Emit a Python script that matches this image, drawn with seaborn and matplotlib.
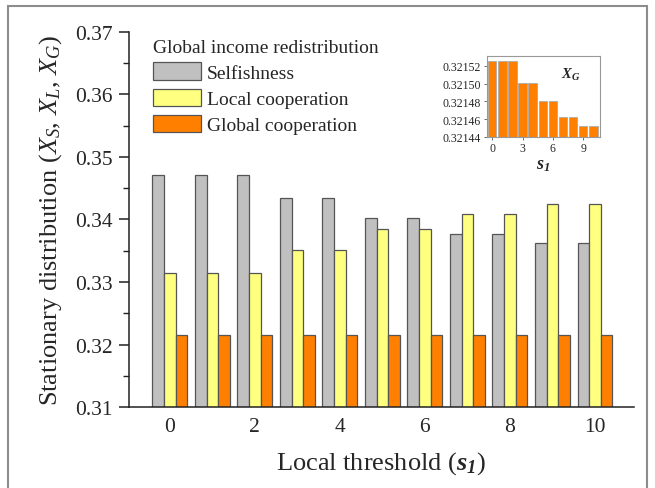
import numpy as np
import pandas as pd
import matplotlib
matplotlib.use("Agg")
import matplotlib.pyplot as plt
import seaborn as sns
from matplotlib.patches import Patch, Rectangle

# ---- data ----
s1_values = list(range(11))
selfishness = [0.3471, 0.3471, 0.3471, 0.3435, 0.3435, 0.3403, 0.3403, 0.3376, 0.3376, 0.3363, 0.3363]
local_coop = [0.3314, 0.3314, 0.3314, 0.3351, 0.3351, 0.3384, 0.3384, 0.3409, 0.3409, 0.3424, 0.3424]
global_coop = [0.321526, 0.321526, 0.321526, 0.321501, 0.321501, 0.321480, 0.321480, 0.321462, 0.321462, 0.321452, 0.321452]
series_names = ["Selfishness", "Local cooperation", "Global cooperation"]
legend_title = "Global income redistribution"
main_xticks = [0, 2, 4, 6, 8, 10]
inset_xticks = [0, 3, 6, 9]
inset_yticks = [0.32144, 0.32146, 0.32148, 0.32150, 0.32152]

colors = ["#C0C0C0", "#FFFF80", "#FF8000"]

sns.set_theme(style="white")
plt.rcParams["font.family"] = ["Liberation Serif", "DejaVu Serif"]
plt.rcParams["mathtext.fontset"] = "custom"
plt.rcParams["mathtext.rm"] = "Liberation Serif"
plt.rcParams["mathtext.it"] = "Liberation Serif:italic"
plt.rcParams["mathtext.bf"] = "Liberation Serif:bold:italic"

df = pd.DataFrame({
    "s1": s1_values * 3,
    "value": selfishness + local_coop + global_coop,
    "series": sum([[n] * len(s1_values) for n in series_names], []),
})

fig = plt.figure(figsize=(6.55, 4.89), dpi=100)
ax = fig.add_axes([0.197, 0.1656, 0.771, 0.767])

sns.barplot(data=df, x="s1", y="value", hue="series", hue_order=series_names,
            palette=colors, width=0.82, edgecolor="#555555", linewidth=0.9,
            saturation=1, ax=ax, legend=False)
ax.set_ylim(0.31, 0.37)
ax.set_xlim(-0.96, 10.92)
ax.set_yticks(np.arange(0.31, 0.3701, 0.01))
ax.set_yticks(np.arange(0.315, 0.37, 0.01), minor=True)
ax.set_yticklabels([f"{v:.2f}" for v in np.arange(0.31, 0.3701, 0.01)])
ax.set_xticks(main_xticks)
ax.set_xticklabels([str(v) for v in main_xticks])
ax.tick_params(axis="y", which="major", direction="out", length=7, width=1.1,
               labelsize=15.5, left=True, color="#222222", pad=5)
ax.tick_params(axis="y", which="minor", direction="out", length=4, width=1.0,
               left=True, color="#222222")
ax.tick_params(axis="x", length=0, labelsize=15.5, pad=7)
for sp in ["top", "right"]:
    ax.spines[sp].set_visible(False)
for sp in ["left", "bottom"]:
    ax.spines[sp].set_color("#222222")
    ax.spines[sp].set_linewidth(1.1)
ax.set_xlabel(r"Local threshold ($\mathbf{s}_{\mathbf{1}}$)", fontsize=19, labelpad=10)
ax.set_ylabel(r"Stationary distribution ($X_S$, $X_L$, $X_G$)", fontsize=19, labelpad=8)

handles = [Patch(facecolor=c, edgecolor="#555555", linewidth=0.9) for c in colors]
leg = ax.legend(handles, series_names, title=legend_title, loc="upper left",
                bbox_to_anchor=(0.233, 0.919), bbox_transform=fig.transFigure,
                frameon=False, fontsize=14, title_fontsize=14, handlelength=2.5,
                handleheight=1.0, handletextpad=0.3, labelspacing=0.35,
                borderpad=0, borderaxespad=0, alignment="left")

# ---- inset ----
iax = fig.add_axes([0.743, 0.718, 0.173, 0.165])
sns.barplot(x=s1_values, y=global_coop, color=colors[2], width=0.84,
            edgecolor="#AAAAAA", linewidth=0.6, saturation=1, ax=iax)
iax.set_ylim(0.32144, 0.321531)
iax.set_xlim(-0.55, 10.66)
iax.set_yticks(inset_yticks)
iax.set_yticklabels([f"{v:.5f}" for v in inset_yticks])
iax.set_xticks(inset_xticks)
iax.set_xticklabels([str(v) for v in inset_xticks])
iax.tick_params(axis="both", direction="out", length=2.5, width=0.6, labelsize=8.5,
                pad=1.5, left=True, bottom=True, color="#555555")
for sp in iax.spines.values():
    sp.set_color("#999999")
    sp.set_linewidth(0.8)
iax.set_xlabel(r"$\mathbf{s}_{\mathbf{1}}$", fontsize=13, labelpad=1)
iax.set_ylabel("")
iax.text(0.74, 0.78, r"$\mathbf{X}_{\mathbf{G}}$", transform=iax.transAxes,
         fontsize=10.5, ha="center", va="center")

# figure frame
fig.patches.append(Rectangle((8 / 655, -0.05), 639 / 655, 1 - 7 / 489 + 0.05,
                             transform=fig.transFigure, fill=False,
                             edgecolor="#8C8C8C", linewidth=1.5, zorder=-1))

fig.savefig("out.png", dpi=100)
